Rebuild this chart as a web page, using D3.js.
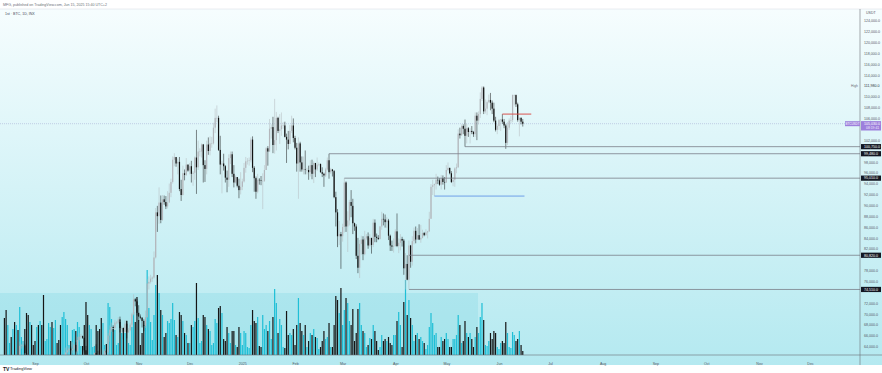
<!DOCTYPE html>
<html>
<head>
<meta charset="utf-8">
<script src="https://cdn.jsdelivr.net/npm/d3@7"></script>
<style>
  body { margin: 0; background: #fff; }
  text { font-family: "Liberation Sans", Roboto, sans-serif; }
</style>
</head>
<body>
<div id="root"></div>
<script>
// Daily BTC candles, values in thousands of USDT, first day 2024-08-14
var firstDay = new Date(2024, 7, 14);
var firstOpen = 60.6;

var closes = [
  58.7,57.5,58.9,59.5,58.4,59.5,59.0,61.2,60.4,64.1,64.2,64.2,62.8,59.4,59.0,59.4,59.1,58.9,
  57.3,59.1,57.5,58.0,56.2,53.9,54.2,54.8,57.0,57.6,57.3,58.1,60.5,60.0,59.2,58.2,60.3,61.8,62.9,63.3,63.6,63.3,63.6,64.3,63.1,65.2,65.8,65.9,65.6,63.3,
  60.8,60.6,60.7,62.1,62.1,62.8,62.3,62.2,60.6,60.3,62.4,63.2,62.9,66.0,67.1,67.6,67.4,68.4,68.4,69.0,67.4,67.4,66.7,68.2,66.6,67.0,68.0,69.9,72.7,72.3,70.2,
  69.5,69.3,68.7,67.8,69.4,75.6,75.9,76.5,76.7,80.4,88.7,88.0,90.5,87.3,91.1,90.6,89.8,90.5,92.3,94.3,98.4,98.9,97.7,98.0,93.0,91.9,95.9,95.6,97.5,96.4,
  97.2,95.8,96.0,98.8,97.0,99.9,99.9,101.2,97.4,96.7,101.2,100.0,101.4,101.4,104.3,106.1,106.1,100.2,97.5,97.7,97.2,95.1,94.7,98.7,99.4,95.8,94.2,95.2,93.6,92.8,93.4,
  94.4,96.9,98.1,98.2,98.3,102.1,96.9,95.0,92.5,94.7,94.6,94.5,94.5,96.5,100.5,99.9,104.1,104.4,101.1,102.0,106.1,103.7,104.0,104.7,104.7,102.6,102.1,101.3,103.7,104.7,102.4,
  100.6,97.7,101.4,97.9,96.6,96.6,96.5,96.5,96.1,97.4,95.8,97.8,96.6,97.5,97.6,96.1,95.8,95.5,96.6,98.3,96.1,96.6,96.3,91.5,88.7,84.3,84.7,84.3,
  86.0,94.2,86.1,87.2,90.6,89.9,86.7,86.1,80.7,78.5,82.9,83.7,81.0,83.9,84.3,82.6,84.0,82.7,86.8,84.2,84.0,83.8,86.1,87.5,87.4,86.9,87.2,84.4,82.6,82.4,82.5,
  85.2,82.5,83.1,83.8,83.5,78.4,79.2,76.3,82.6,79.6,83.4,85.3,83.7,84.5,83.7,84.0,84.9,84.5,85.0,85.2,87.5,93.4,93.7,93.9,94.7,94.6,93.8,95.0,94.3,94.2,
  96.5,96.9,95.9,94.3,94.7,96.8,97.0,103.2,102.9,104.6,104.1,102.8,104.2,103.5,103.7,103.5,103.1,106.5,105.6,106.8,109.6,111.7,107.3,107.8,109.0,109.4,108.9,107.8,105.6,103.9,104.6,
  105.7,105.8,105.4,104.7,101.5,104.3,105.6,105.7,110.3,110.3,108.6,105.7,106.1,105.4,105.03
];

var highs = [
  61.8,59.8,59.8,59.7,60.3,59.6,61.4,61.8,61.4,64.9,64.5,65.0,64.5,63.2,60.2,61.2,59.9,59.4,
  59.0,59.4,59.8,58.5,58.3,57.0,54.8,55.3,58.1,58.0,57.9,58.6,60.6,60.6,60.4,59.2,61.3,62.0,63.8,64.1,63.8,64.0,64.8,64.5,64.8,65.8,66.5,66.3,66.0,65.6,
  64.1,62.4,61.5,62.5,62.4,62.9,64.4,63.2,62.5,61.3,63.4,63.5,63.3,66.5,67.9,68.4,67.9,68.9,68.7,69.4,69.5,67.8,67.5,68.8,68.8,67.4,68.3,70.2,73.6,72.9,72.7,
  71.6,69.9,69.4,69.0,70.6,76.4,76.9,77.2,76.9,81.5,89.5,89.9,93.3,91.8,91.9,91.8,91.7,92.6,94.0,94.9,99.0,99.6,98.8,98.6,98.9,94.7,97.3,96.6,98.7,97.5,
  97.8,98.2,96.3,99.0,103.9,101.9,100.5,101.4,101.3,98.3,101.9,102.5,102.7,102.6,105.2,107.8,108.4,106.5,102.8,98.2,99.5,97.4,96.4,99.4,99.9,99.9,97.4,95.5,95.2,94.9,96.1,
  94.9,97.8,98.9,98.7,98.8,102.5,102.7,97.2,95.3,95.8,95.0,95.4,95.9,97.4,100.7,100.9,105.9,104.9,106.3,109.6,107.2,106.3,106.8,107.1,105.3,105.4,103.2,103.7,104.8,106.5,106.0,
  102.8,101.5,102.5,101.7,99.0,99.0,100.1,96.9,97.3,98.3,98.4,98.1,97.3,98.8,97.9,97.7,97.0,96.0,96.9,98.8,99.5,96.9,96.7,96.5,92.5,89.3,87.1,85.1,
  86.6,95.0,94.4,88.9,91.0,92.8,91.2,86.8,86.5,84.0,83.6,84.4,84.3,85.3,84.7,85.0,84.7,84.0,87.5,87.4,84.8,84.5,86.2,88.8,88.5,88.3,87.8,87.5,84.6,83.5,83.9,
  85.6,88.5,83.9,84.7,84.2,83.8,81.2,80.8,83.5,82.7,84.3,85.9,86.1,85.8,86.5,86.4,85.5,85.1,85.6,85.3,88.8,93.9,94.7,94.0,95.8,95.3,95.0,95.6,95.5,95.2,
  97.4,97.9,96.9,96.3,95.2,97.0,97.7,104.0,104.3,104.9,104.9,105.8,105.0,104.4,104.2,104.6,103.7,107.1,107.1,107.3,110.8,111.98,111.9,109.5,109.3,110.4,110.7,109.3,108.9,106.3,104.9,
  105.9,105.9,106.8,105.9,105.0,105.3,106.0,106.5,110.4,110.4,110.4,108.9,106.2,106.2,105.9
];

var lows = [
  58.4,56.1,57.0,58.8,58.2,57.8,58.6,58.8,59.8,60.3,63.6,63.8,62.7,58.1,57.9,58.8,57.8,58.7,
  57.2,57.1,57.4,55.6,55.7,52.6,53.7,53.6,54.6,56.4,55.6,57.3,57.6,59.5,58.7,57.5,57.6,59.2,61.6,62.3,62.9,62.4,62.7,62.7,62.9,62.7,64.9,65.4,65.4,62.9,
  60.2,59.9,59.8,60.5,61.7,61.9,62.1,61.8,60.3,58.9,60.1,62.4,62.2,62.4,64.8,66.7,66.7,67.1,68.1,68.1,66.6,66.6,65.3,66.6,65.5,66.5,66.8,67.5,69.7,71.4,69.7,
  68.8,69.0,67.5,66.8,67.4,69.3,74.5,75.6,75.9,76.5,80.2,85.1,86.6,86.7,87.1,90.1,89.3,89.4,90.9,91.5,94.0,97.2,97.1,95.7,92.6,90.8,91.8,94.6,95.4,96.2,
  95.7,94.2,93.6,94.7,92.1,96.5,99.0,98.8,94.2,94.3,95.7,99.3,99.2,100.6,101.2,103.3,105.3,100.0,95.7,92.2,96.4,94.2,92.4,93.4,97.6,95.2,93.3,94.0,93.3,91.3,92.0,
  92.8,94.2,96.0,97.5,97.3,97.9,96.1,92.5,91.2,92.2,93.8,93.7,89.3,94.3,96.5,97.3,99.9,102.3,99.6,99.5,100.1,103.3,101.3,102.8,104.1,102.5,97.8,100.3,101.3,103.3,101.6,
  100.3,96.2,91.2,96.2,96.2,95.7,95.7,95.7,94.7,95.3,94.8,94.1,95.2,96.3,97.2,96.0,95.2,93.4,95.2,96.4,94.9,95.8,95.3,91.3,86.1,82.3,82.7,78.3,
  83.3,85.0,85.1,81.4,86.3,87.8,84.7,85.3,80.1,77.5,76.6,80.9,79.9,80.8,83.6,82.0,82.4,81.1,82.3,83.2,83.2,83.6,83.7,85.5,86.3,85.9,85.8,83.6,81.6,81.6,81.3,
  82.4,82.3,81.2,81.7,82.4,77.2,74.5,76.2,74.6,78.5,78.9,82.8,83.0,83.7,83.6,83.1,83.9,84.3,84.4,83.9,85.1,87.6,91.9,91.7,92.9,93.9,93.6,92.9,93.8,92.9,
  94.1,96.3,95.7,94.1,93.5,93.4,95.9,96.9,102.3,102.8,103.1,100.8,101.4,102.6,101.4,103.1,102.6,102.6,102.0,104.9,106.1,109.2,106.8,106.9,106.6,108.8,107.5,106.8,105.3,103.6,103.1,
  103.9,103.7,105.0,104.2,100.4,101.1,103.9,105.1,105.3,108.4,108.1,105.4,102.7,104.9,104.5
];

// thousands of BTC per day
var volumes = [
  37,45,30,12,18,26,33,30,25,48,18,14,26,42,40,33,30,10,
  14,28,30,34,30,60,14,16,32,28,33,27,35,12,15,30,38,43,36,30,10,14,25,26,24,33,28,9,9,30,
  53,40,30,26,8,9,30,24,26,37,32,10,11,52,48,36,26,25,10,12,33,22,27,22,34,12,10,28,43,33,58,
  35,10,22,30,32,85,47,33,15,40,70,80,62,45,40,18,22,34,32,36,52,35,20,18,43,40,34,22,20,12,
  12,30,28,34,72,37,12,14,40,38,30,26,24,10,12,36,32,47,49,42,16,14,28,22,12,24,24,10,8,28,22,
  10,24,22,8,7,30,45,34,32,38,9,8,40,26,30,24,34,16,38,66,52,22,36,30,8,7,44,20,22,20,26,
  10,30,57,32,24,20,30,8,14,22,20,26,18,17,6,8,14,24,16,18,32,8,8,30,59,55,42,67,
  30,45,57,52,34,30,46,14,22,46,52,30,24,22,8,10,17,16,30,24,14,5,8,20,14,16,14,18,12,10,20,
  20,34,43,30,8,53,75,40,55,37,30,14,20,22,16,18,14,12,6,10,28,42,32,20,22,8,8,18,14,16,
  22,16,8,8,16,16,20,40,30,12,14,34,22,18,22,16,8,18,28,22,38,52,35,10,9,14,22,16,24,22,8,
  6,12,14,12,33,22,8,7,23,20,14,16,24,10,4
];

var priceTicks = d3.range(64, 125, 2);
var monthTicks = [new Date(2024,8,1), new Date(2024,9,1), new Date(2024,10,1), new Date(2024,11,1),
  new Date(2025,0,1), new Date(2025,1,1), new Date(2025,2,1), new Date(2025,3,1), new Date(2025,4,1),
  new Date(2025,5,1), new Date(2025,6,1), new Date(2025,7,1), new Date(2025,8,1), new Date(2025,9,1),
  new Date(2025,10,1), new Date(2025,11,1)];
var monthLabels = ["Sep","Oct","Nov","Dec","2025","Feb","Mar","Apr","May","Jun","Jul","Aug","Sep","Oct","Nov","Dec"];

// Drawn levels: price, start day, end day (null = to the price scale)
var levels = [
  {price: 100.8, from: new Date(2025,4,12), to: null, color: "#7b7f89", label: "100,750.0"},
  {price: 99.5, from: new Date(2025,1,21), to: null, color: "#7b7f89", label: "99,480.0"},
  {price: 95.0, from: new Date(2025,2,2), to: null, color: "#7b7f89", label: "95,010.0"},
  {price: 80.8, from: new Date(2025,3,9), to: null, color: "#7b7f89", label: "80,820.0"},
  {price: 74.5, from: new Date(2025,3,9), to: null, color: "#7b7f89", label: "74,510.0"},
  {price: 91.7, from: new Date(2025,3,24), to: new Date(2025,5,16), color: "#6f9fe8", label: null},
  {price: 106.8, from: new Date(2025,5,3), to: new Date(2025,5,20), color: "#d9534f", label: null}
];
var highValue = 111.98;
var lastPrice = 105.03;

// Build candle rows
var candles = closes.map(function(c, i) {
  var d = new Date(firstDay);
  d.setDate(d.getDate() + i);
  return {date: d, open: i === 0 ? firstOpen : closes[i - 1], close: c, high: highs[i], low: lows[i], vol: volumes[i]};
});

var W = 882, H = 373;
var paneRight = 860, paneTop = 9, paneBottom = 355;

var svg = d3.select("#root").append("svg")
  .attr("width", W).attr("height", H);

var defs = svg.append("defs");
var grad = defs.append("linearGradient")
  .attr("id", "bg").attr("x1", 0).attr("y1", 0).attr("x2", 0).attr("y2", 1);
grad.append("stop").attr("offset", "0%").attr("stop-color", "#f6fdfe");
grad.append("stop").attr("offset", "100%").attr("stop-color", "#b4e9f0");
defs.append("clipPath").attr("id", "pane")
  .append("rect").attr("x", 0).attr("y", paneTop).attr("width", paneRight).attr("height", paneBottom - paneTop);

svg.append("rect").attr("width", W).attr("height", H).attr("fill", "#fff");
svg.append("rect").attr("x", 0).attr("y", paneTop).attr("width", W).attr("height", 365 - paneTop)
  .attr("fill", "url(#bg)");

var x = d3.scaleTime()
  .domain([new Date(2024,8,1), new Date(2025,11,1)])
  .range([35, 810]);
var y = d3.scaleLinear().domain([62.43, 125.97]).range([paneBottom, 10]);
var v = d3.scaleLinear().domain([0, 100]).range([paneBottom, 255]);

var pane = svg.append("g").attr("clip-path", "url(#pane)");

// volume zone box
pane.append("rect")
  .attr("x", 0).attr("y", 293).attr("width", 478).attr("height", paneBottom - 293)
  .attr("fill", "#8fdbe6").attr("opacity", 0.4);

// current price dotted line
pane.append("line")
  .attr("x1", 0).attr("x2", paneRight).attr("y1", y(lastPrice)).attr("y2", y(lastPrice))
  .attr("stroke", "#a9b4d6").attr("stroke-width", 0.6).attr("stroke-dasharray", "1,1");

// volume bars
pane.selectAll(".vol")
  .data(candles)
  .enter().append("rect")
  .attr("x", function(d) { return x(d.date) - 0.6; })
  .attr("y", function(d) { return v(d.vol); })
  .attr("width", 1.2)
  .attr("height", function(d) { return paneBottom - v(d.vol); })
  .attr("fill", function(d) { return d.close >= d.open ? "#1fbfd6" : "#151515"; });

// candles
var candleColor = function(d) { return d.close >= d.open ? "#b3b6bb" : "#111111"; };
pane.selectAll(".wick")
  .data(candles)
  .enter().append("line")
  .attr("x1", function(d) { return x(d.date); })
  .attr("x2", function(d) { return x(d.date); })
  .attr("y1", function(d) { return y(d.high); })
  .attr("y2", function(d) { return y(d.low); })
  .attr("stroke", candleColor)
  .attr("stroke-width", 0.5);
pane.selectAll(".body")
  .data(candles)
  .enter().append("rect")
  .attr("x", function(d) { return x(d.date) - 0.6; })
  .attr("y", function(d) { return y(Math.max(d.open, d.close)); })
  .attr("width", 1.2)
  .attr("height", function(d) { return Math.max(0.5, Math.abs(y(d.open) - y(d.close))); })
  .attr("fill", candleColor);

// levels
pane.selectAll(".level")
  .data(levels)
  .enter().append("line")
  .attr("x1", function(d) { return x(d.from); })
  .attr("x2", function(d) { return d.to ? x(d.to) : paneRight; })
  .attr("y1", function(d) { return y(d.price); })
  .attr("y2", function(d) { return y(d.price); })
  .attr("stroke", function(d) { return d.color; })
  .attr("stroke-width", function(d) { return d.to ? 1 : 0.8; });

// pane frame
svg.append("line").attr("x1", 0).attr("x2", W).attr("y1", paneTop).attr("y2", paneTop)
  .attr("stroke", "#d6dbe0").attr("stroke-width", 0.5);
svg.append("line").attr("x1", 0).attr("x2", W).attr("y1", paneBottom).attr("y2", paneBottom)
  .attr("stroke", "#6d7077").attr("stroke-width", 0.6);
svg.append("line").attr("x1", paneRight).attr("x2", paneRight).attr("y1", paneTop).attr("y2", 365)
  .attr("stroke", "#6d7077").attr("stroke-width", 0.6);

// price axis
var boxed = levels.filter(function(d) { return d.label; }).map(function(d) { return y(d.price); })
  .concat([y(highValue), y(lastPrice), y(lastPrice) + 4]);
var yAxis = svg.append("g")
  .attr("transform", "translate(" + (paneRight + 3) + ",0)")
  .call(d3.axisRight(y)
    .tickValues(priceTicks.filter(function(t) {
      return boxed.every(function(b) { return Math.abs(y(t) - b) > 4.5; });
    }))
    .tickSize(0)
    .tickFormat(function(t) { return d3.format(",")(t * 1000) + ".0"; }));
yAxis.select(".domain").remove();
yAxis.selectAll("text").attr("font-size", "3.6px").attr("fill", "#555a63").attr("x", 1);

svg.append("text").attr("x", 866).attr("y", 13.5).text("USDT")
  .attr("font-size", "3.6px").attr("fill", "#555a63");

// high marker
svg.append("text").attr("x", 858).attr("y", y(highValue) + 1.2).attr("text-anchor", "end")
  .text("High").attr("font-size", "3.4px").attr("fill", "#6b6f78");
svg.append("text").attr("x", 864).attr("y", y(highValue) + 1.2)
  .text(d3.format(",.1f")(highValue * 1000)).attr("font-size", "3.6px").attr("fill", "#2a2e39");

// level tags on the scale
var tags = svg.selectAll(".tag")
  .data(levels.filter(function(d) { return d.label; }))
  .enter().append("g")
  .attr("transform", function(d) { return "translate(" + (paneRight + 1) + "," + y(d.price) + ")"; });
tags.append("rect").attr("x", 0).attr("y", -2.6).attr("width", 20).attr("height", 5.2).attr("fill", "#131722");
tags.append("text").attr("x", 3).attr("y", 1.3).text(function(d) { return d.label; })
  .attr("font-size", "3.6px").attr("fill", "#fff");

// last price tag
var ly = y(lastPrice);
svg.append("rect").attr("x", 845).attr("y", ly - 2.5).attr("width", 15).attr("height", 5).attr("fill", "#9d7fdc");
svg.append("text").attr("x", 852.5).attr("y", ly + 1.2).attr("text-anchor", "middle").text("BTCUSDT")
  .attr("font-size", "3px").attr("fill", "#fff");
svg.append("rect").attr("x", paneRight + 1).attr("y", ly - 2.6).attr("width", 20).attr("height", 9.4).attr("fill", "#9d7fdc");
svg.append("text").attr("x", 864).attr("y", ly + 1.2).text(d3.format(",.1f")(lastPrice * 1000))
  .attr("font-size", "3.6px").attr("fill", "#fff");
svg.append("text").attr("x", 866).attr("y", ly + 5.6).text("08:19:41")
  .attr("font-size", "3.4px").attr("fill", "#f1ecff");

// time axis
var xAxis = svg.append("g")
  .attr("transform", "translate(0," + (paneBottom + 3.5) + ")")
  .call(d3.axisBottom(x).tickValues(monthTicks).tickSize(0)
    .tickFormat(function(d, i) { return monthLabels[i]; }));
xAxis.select(".domain").remove();
xAxis.selectAll("text").attr("font-size", "3.6px").attr("fill", "#555a63").attr("dy", "0.9em");

// header and footer
svg.append("text").attr("x", 3).attr("y", 5.5)
  .text("MFG, published on TradingView.com, Jun 15, 2025 15:40 UTC+2")
  .attr("font-size", "3.6px").attr("fill", "#6b6f78");
svg.append("text").attr("x", 5).attr("y", 14.5)
  .text("1st · BTC, 1D, INX")
  .attr("font-size", "3.6px").attr("fill", "#444a55");
svg.append("text").attr("x", 3).attr("y", 370.5)
  .text("TV").attr("font-size", "5px").attr("font-weight", "bold").attr("fill", "#131722");
svg.append("text").attr("x", 10).attr("y", 370.3)
  .text("TradingView").attr("font-size", "4px").attr("fill", "#131722");
</script>
</body>
</html>
